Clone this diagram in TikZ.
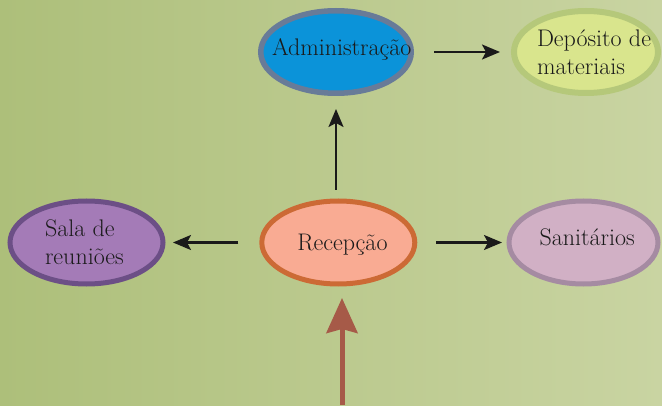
\documentclass[tikz,border=0pt]{standalone}
\usepackage{fontspec}
\usepackage{graphicx}
\usetikzlibrary{shapes.geometric,arrows.meta}

\definecolor{bgleft}{HTML}{ADBF7A}
\definecolor{bgright}{HTML}{C9D4A2}
\definecolor{admfill}{HTML}{0B93D9}
\definecolor{admline}{HTML}{687B98}
\definecolor{depfill}{HTML}{D9E58D}
\definecolor{depline}{HTML}{B5C87A}
\definecolor{salafill}{HTML}{A47BB7}
\definecolor{salaline}{HTML}{6C4F86}
\definecolor{recfill}{HTML}{F9AB93}
\definecolor{recline}{HTML}{CC6A35}
\definecolor{sanfill}{HTML}{D1B0C5}
\definecolor{sanline}{HTML}{A58BA2}
\definecolor{arrowcol}{HTML}{1A1A1A}
\definecolor{entrycol}{HTML}{A65A48}
\definecolor{textcol}{HTML}{1A1A1A}

% text placed inside an oval: #1 = left start from centre, #2 = baseline raise
\newcommand{\ovaltext}[3]{\makebox[0pt][l]{\hspace*{#1}\raisebox{#2}[0pt][0pt]{#3}}}
\newcommand{\twolines}[2]{\begin{tabular}[t]{@{}l@{}}#1\\#2\end{tabular}}

\begin{document}
\begin{tikzpicture}[x=1pt,y=1pt,
  oval/.style={ellipse, inner sep=0pt, text=textcol,
    font=\fontsize{24}{28}\selectfont},
  arr/.style={line width=2.2pt, draw=arrowcol,
    -{Stealth[length=18pt,width=15pt,inset=4pt]}},
  entryarr/.style={line width=5pt, draw=entrycol,
    -{Stealth[length=35pt,width=31pt,inset=4pt]}}]

  % background
  \shade[left color=bgleft, right color=bgright] (0,0) rectangle (662,405);
  \useasboundingbox (0,0) rectangle (662,405);

  % rooms
  \node[oval, fill=admfill, draw=admline, line width=5.5pt,
        minimum width=150.5pt, minimum height=82.5pt] (adm) at (336,353)
        {\ovaltext{-64pt}{-4pt}{Administração}};
  \node[oval, fill=depfill, draw=depline, line width=6pt,
        minimum width=144pt, minimum height=82pt] (dep) at (586,353)
        {\ovaltext{-49pt}{5pt}{\twolines{Depósito de}{materiais}}};
  \node[oval, fill=salafill, draw=salaline, line width=5pt,
        minimum width=153pt, minimum height=83pt] (sala) at (86.5,162.5)
        {\ovaltext{-41.5pt}{6.3pt}{\twolines{Sala de}{reuniões}}};
  \node[oval, fill=recfill, draw=recline, line width=5pt,
        minimum width=153pt, minimum height=83pt] (rec) at (338.3,162.5)
        {\ovaltext{-41pt}{-8.5pt}{Recepção}};
  \node[oval, fill=sanfill, draw=sanline, line width=5pt,
        minimum width=149pt, minimum height=83pt] (san) at (583.5,162.5)
        {\ovaltext{-44pt}{-2.5pt}{Sanitários}};

  % connections
  \draw[arr, shorten <=20pt, shorten >=11pt] (adm) -- (dep);
  \draw[arr, shorten <=8.5pt, shorten >=13pt] (adm.south |- rec.north) -- (adm.south);
  \draw[arr, shorten <=21pt, shorten >=7.5pt] (rec) -- (sala);
  \draw[arr, shorten <=19pt, shorten >=4.5pt] (rec) -- (san);

  % entrance
  \coordinate (entry) at (342,0);
  \draw[entryarr, shorten >=11.5pt] (entry) -- (entry |- rec.south);
\end{tikzpicture}
\end{document}
